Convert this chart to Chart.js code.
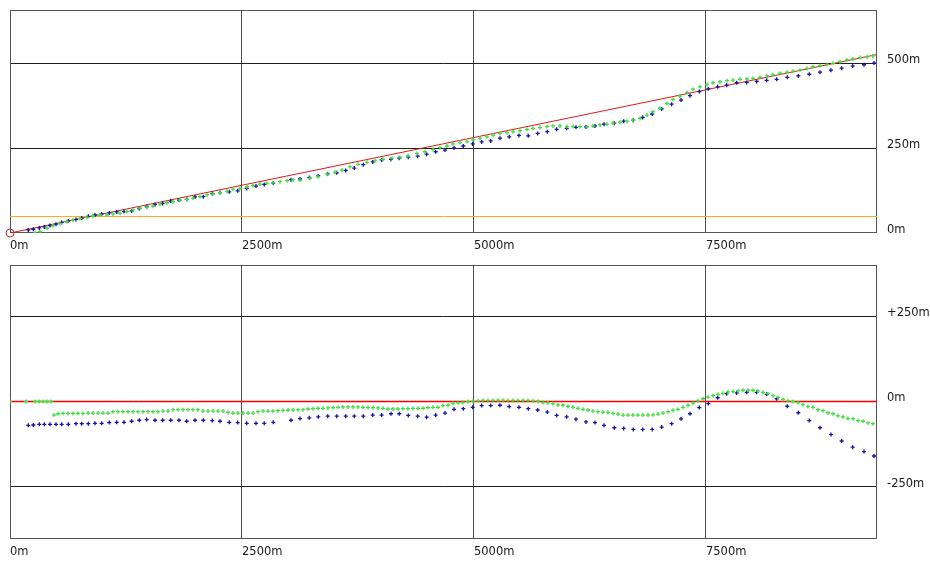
<!DOCTYPE html>
<html><head><meta charset="utf-8">
<script src="https://cdn.jsdelivr.net/npm/chart.js@4.4.1/dist/chart.umd.min.js"></script>
<style>
html,body{margin:0;padding:0;background:#fff;}
#wrap{position:relative;width:930px;height:561px;overflow:hidden;background:#fff;}
canvas{position:absolute;left:0;}
</style></head><body>
<div id="wrap">
<canvas id="topChart" width="930" height="255" style="top:0"></canvas>
<canvas id="botChart" width="930" height="306" style="top:255px"></canvas>
</div>
<script>
// ---- axes ----
const xMaxDist = 9343;
const xTicks = [0, 2500, 5000, 7500];
const elevTicks = [0, 250, 500];
const elevRange = [0, 656];
const offsetTicks = [-250, 0, 250];
const offsetRange = [-403.5, 400.5];

// ---- reference line and threshold ----
const refDist = [0, 9343];
const refElev = [0, 525];
const thresholdElev = 48.5;
const refOffset = [0, 0];

// ---- blue series ----
const blueDist = [197,251,316,370,431,496,557,628,711,773,844,916,988,1070,1150,1228,1311,1393,1473,1563,1645,1732,1821,1904,1994,2083,2180,2263,2363,2454,2551,2651,2740,2837,3028,3125,3225,3322,3424,3521,3618,3710,3807,3909,4005,4106,4195,4292,4393,4490,4587,4688,4785,4885,4986,5083,5180,5280,5380,5485,5585,5686,5790,5891,5999,6099,6207,6304,6401,6512,6613,6717,6818,6921,7023,7130,7231,7328,7428,7525,7626,7723,7831,7939,8047,8154,8262,8376,8495,8613,8729,8847,8962,9081,9203,9311];
const blueElev = [9,11,15,18,22,26,31,35,40,44,49,53,56,59,62,63,65,72,78,84,87,94,97,99,106,107,116,119,121,124,131,138,143,147,157,159,163,168,174,177,184,191,201,209,215,217,220,223,226,232,239,244,250,256,262,268,271,279,283,287,286,293,298,305,308,311,312,315,320,323,329,332,340,350,365,379,391,404,416,424,430,435,442,443,446,449,452,458,462,467,473,479,485,491,495,500];
const blueOffset = [-70,-69,-67,-67,-67,-67,-67,-67,-65,-65,-65,-64,-64,-62,-61,-61,-58,-55,-53,-55,-55,-55,-55,-58,-55,-55,-56,-58,-61,-62,-64,-64,-64,-61,-55,-50,-48,-45,-43,-43,-43,-43,-43,-40,-40,-36,-36,-41,-43,-46,-40,-34,-23,-21,-17,-12,-12,-11,-15,-17,-21,-25,-31,-41,-45,-52,-60,-62,-70,-77,-79,-82,-82,-82,-75,-65,-51,-36,-18,-6,11,23,25,27,27,21,8,-14,-33,-56,-77,-97,-116,-134,-147,-160];

// ---- green series (top) ----
const greenElevDist = [269,323,399,463,539,614,679,754,830,894,970,1045,1110,1185,1261,1325,1401,1476,1541,1616,1692,1756,1832,1907,1972,2047,2123,2188,2263,2338,2403,2478,2554,2619,2694,2769,2834,2910,2985,3050,3125,3233,3319,3416,3502,3578,3664,3750,3847,3933,4019,4116,4202,4289,4386,4472,4558,4634,4709,4774,4849,4925,4989,5065,5140,5205,5280,5356,5420,5496,5571,5636,5711,5787,5851,5927,6002,6067,6142,6218,6282,6358,6433,6498,6573,6649,6713,6789,6864,6929,7004,7080,7145,7220,7296,7360,7435,7511,7576,7651,7726,7791,7867,7942,8007,8082,8158,8222,8298,8373,8438,8513,8588,8653,8729,8804,8869,8944,9019,9084,9160,9235,9300];
const greenElev = [0,4,14,21,28,33,38,43,46,50,53,53,56,58,63,68,73,76,79,85,89,92,97,99,102,107,112,115,119,123,129,131,136,140,144,146,148,151,154,156,155,161,166,173,179,185,195,202,208,213,217,220,223,227,234,239,246,251,256,262,266,269,274,279,283,288,293,295,298,301,305,308,310,313,315,315,313,313,313,312,315,318,320,323,326,329,332,337,347,357,367,381,393,403,413,423,430,437,442,445,448,450,452,453,455,458,462,466,470,473,476,479,484,489,492,496,499,504,509,512,516,518,521];

// ---- green series (bottom) ----
const greenOffDist = [0,172,269,313,356,399,442,474,517,571,625,679,733,787,841,894,948,1002,1056,1110,1164,1218,1272,1325,1379,1433,1487,1541,1595,1649,1703,1757,1810,1864,1918,1972,2026,2080,2134,2188,2241,2295,2349,2403,2457,2511,2565,2619,2672,2726,2780,2834,2888,2942,2996,3050,3103,3157,3211,3265,3319,3373,3427,3481,3534,3588,3642,3696,3750,3804,3858,3912,3966,4019,4073,4127,4181,4235,4289,4343,4397,4451,4504,4558,4612,4666,4720,4774,4828,4881,4935,4989,5043,5097,5151,5205,5259,5313,5366,5420,5474,5528,5582,5636,5690,5744,5797,5851,5905,5959,6013,6067,6121,6175,6229,6282,6336,6390,6444,6498,6552,6606,6660,6713,6767,6821,6875,6929,6983,7037,7091,7145,7198,7252,7306,7360,7414,7468,7522,7576,7629,7683,7737,7791,7845,7899,7953,8007,8060,8114,8168,8222,8276,8330,8384,8438,8491,8545,8599,8653,8707,8761,8815,8869,8922,8976,9030,9084,9138,9192,9246,9300];
const greenOffset = [0,0,0,0,0,0,0,-40,-36,-35,-35,-35,-35,-35,-34,-34,-34,-34,-34,-30,-30,-30,-30,-30,-30,-30,-30,-30,-30,-28,-28,-24,-24,-24,-24,-24,-24,-28,-28,-28,-28,-28,-32,-34,-34,-34,-34,-34,-30,-28,-28,-28,-27,-26,-25,-25,-24,-24,-22,-21,-20,-20,-19,-18,-17,-16,-16,-16,-16,-17,-18,-18,-19,-20,-22,-22,-22,-21,-21,-20,-20,-20,-18,-17,-17,-12,-11,-5,-4,-3,0,1,2,3,3,3,4,4,3,3,3,3,3,2,1,-3,-4,-6,-10,-11,-14,-17,-20,-23,-25,-28,-30,-31,-32,-35,-37,-40,-40,-40,-40,-40,-40,-39,-37,-34,-30,-26,-23,-17,-11,-5,2,8,13,17,21,24,28,29,31,33,33,33,31,27,23,17,12,6,2,0,-3,-9,-15,-17,-24,-27,-33,-36,-42,-45,-50,-51,-56,-58,-63,-65];

// ---- styling ----
const GREEN = '#3ee03e', BLUE = '#1414a8', RED = '#e01818', ORANGE = '#ffaa1e';
const FONT = {family: 'DejaVu Sans', size: 11.5};
const TXT = '#1a1a1a';
const pts = (xs, ys) => xs.map((x, i) => ({x: x, y: ys[i]}));

const framePlugin = {
  id: 'frame',
  beforeDatasetsDraw(chart) {
    const a = chart.chartArea, c = chart.ctx;
    c.save();
    c.strokeStyle = '#555';
    c.lineWidth = 1;
    c.strokeRect(Math.round(a.left) + 0.5, Math.round(a.top) + 0.5, Math.round(a.right - a.left) - 1, Math.round(a.bottom - a.top) - 1);
    c.restore();
  }
};
const noPad = s => { s.paddingTop = 0; s.paddingBottom = 0; s.paddingLeft = 0; s.paddingRight = 0; };
function lineSet(xs, ys, color, w) {
  return {data: pts(xs, ys), showLine: true, pointRadius: 0, borderColor: color, backgroundColor: color, borderWidth: w || 1, fill: false, tension: 0};
}
function makeChart(id, datasets, yRange, yTicks, yFmt) {
  return new Chart(document.getElementById(id), {
    type: 'scatter',
    data: {datasets},
    options: {
      responsive: false, animation: false, devicePixelRatio: 1, events: [],
      layout: {padding: {left: 10, top: 10, right: 0, bottom: 0}},
      plugins: {legend: {display: false}, tooltip: {enabled: false}},
      scales: {
        x: {
          type: 'linear', position: 'bottom', min: 0, max: xMaxDist,
          afterBuildTicks: s => { s.ticks = xTicks.map(v => ({value: v})); },
          afterFit: s => { s.height = 22; noPad(s); },
          grid: {color: c => (c.tick && c.tick.value === 0) ? 'rgba(0,0,0,0)' : '#505050', lineWidth: 1, drawTicks: false},
          border: {display: false},
          ticks: {align: 'start', padding: 6, maxRotation: 0, autoSkip: false, font: FONT, color: TXT, callback: v => v + 'm'}
        },
        y: {
          type: 'linear', position: 'right', min: yRange[0], max: yRange[1],
          afterBuildTicks: s => { s.ticks = yTicks.map(v => ({value: v})); },
          afterFit: s => { s.width = 53; noPad(s); },
          grid: {color: c => (c.tick && c.tick.value === 0) ? 'rgba(0,0,0,0)' : '#202020', lineWidth: 1, drawTicks: false},
          border: {display: false},
          ticks: {padding: 10, labelOffset: -3, font: FONT, color: TXT, callback: yFmt}
        }
      }
    },
    plugins: [framePlugin]
  });
}
makeChart('topChart', [
  {data: [{x: 0, y: 0}], pointStyle: 'circle', pointRadius: 4, borderColor: '#c03030', backgroundColor: 'rgba(0,0,0,0)', borderWidth: 1, clip: false},
  {data: pts(greenElevDist, greenElev), pointStyle: 'cross', pointRadius: 2, borderColor: GREEN, borderWidth: 1.3},
  {data: pts(blueDist, blueElev), pointStyle: 'cross', pointRadius: 2, borderColor: BLUE, borderWidth: 1.3},
  lineSet(refDist, refElev, RED),
  lineSet(refDist, refDist.map(() => thresholdElev), ORANGE)
], elevRange, elevTicks, v => v + 'm');
makeChart('botChart', [
  {data: pts(greenOffDist, greenOffset), pointStyle: 'cross', pointRadius: 2, borderColor: GREEN, borderWidth: 1.3},
  {data: pts(blueDist, blueOffset), pointStyle: 'cross', pointRadius: 2, borderColor: BLUE, borderWidth: 1.3},
  lineSet(refDist, refOffset, '#ff0000', 1.5)
], offsetRange, offsetTicks, v => (v > 0 ? '+' : '') + v + 'm');
</script>
</body></html>
